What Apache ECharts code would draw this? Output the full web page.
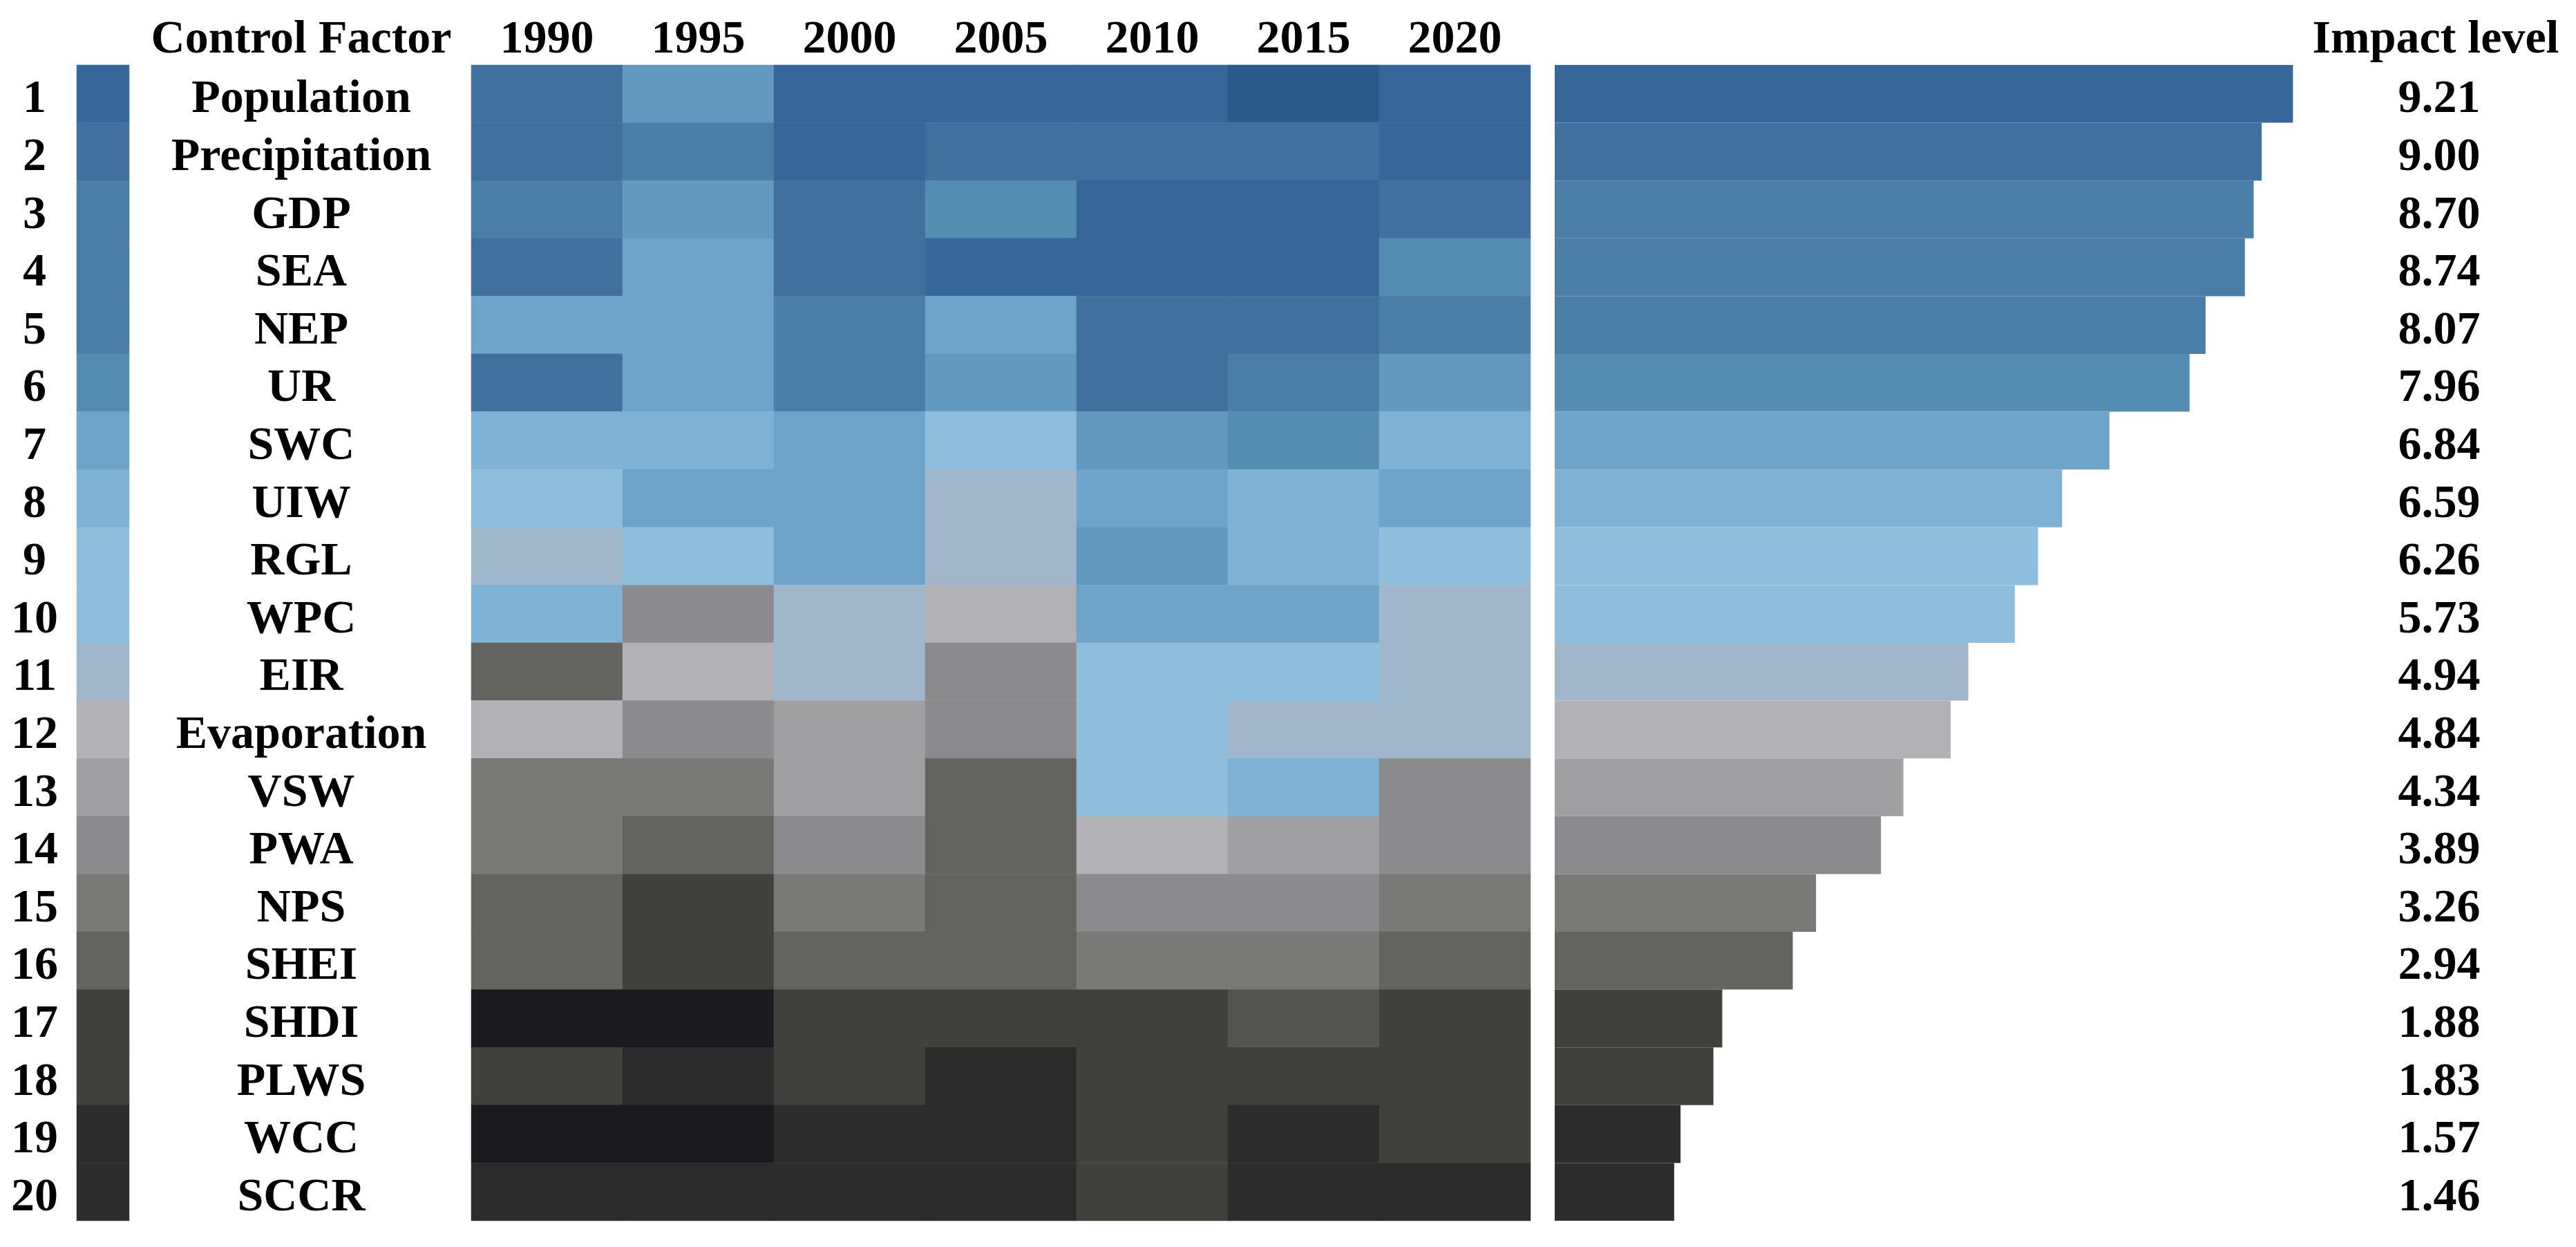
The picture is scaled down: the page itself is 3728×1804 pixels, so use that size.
<!DOCTYPE html>
<html>
<head>
<meta charset="utf-8">
<script src="https://cdn.jsdelivr.net/npm/echarts@6/dist/echarts.min.js"></script>
<style>
  html, body { margin: 0; padding: 0; background: #fff; }
  #chart { width: 3728px; height: 1804px; }
</style>
</head>
<body>
<div id="chart"></div>
<script>
// 数据
const factors = ['Population', 'Precipitation', 'GDP', 'SEA', 'NEP', 'UR', 'SWC', 'UIW', 'RGL', 'WPC',
  'EIR', 'Evaporation', 'VSW', 'PWA', 'NPS', 'SHEI', 'SHDI', 'PLWS', 'WCC', 'SCCR'];
const years = ['1990', '1995', '2000', '2005', '2010', '2015', '2020'];
const impactLevel = [9.21, 9.00, 8.70, 8.74, 8.07, 7.96, 6.84, 6.59, 6.26, 5.73,
  4.94, 4.84, 4.34, 3.89, 3.26, 2.94, 1.88, 1.83, 1.57, 1.46];
// bar lengths as drawn (not always equal to the printed level)
const barLength = [9.21, 8.82, 8.72, 8.61, 8.12, 7.92, 6.92, 6.33, 6.03, 5.74,
  5.16, 4.94, 4.35, 4.07, 3.26, 2.97, 2.09, 1.98, 1.57, 1.49];
// colour class of each rank (swatch + bar)
const rankLevel = [1, 2, 3, 3, 3, 4, 6, 7, 8, 8, 9, 10, 11, 12, 13, 14, 16, 16, 17, 17];
// colour class of each cell, one row per factor, columns = years
const cellLevel = [
  [2, 5, 1, 1, 1, 0, 1],
  [2, 3, 1, 2, 2, 2, 1],
  [3, 5, 2, 4, 1, 1, 2],
  [2, 6, 2, 1, 1, 1, 4],
  [6, 6, 3, 6, 2, 2, 3],
  [2, 6, 3, 5, 2, 3, 5],
  [7, 7, 6, 8, 5, 4, 7],
  [8, 6, 6, 9, 6, 7, 6],
  [9, 8, 6, 9, 5, 7, 8],
  [7, 12, 9, 10, 6, 6, 9],
  [14, 10, 9, 12, 8, 8, 9],
  [10, 12, 11, 12, 8, 9, 9],
  [13, 13, 11, 14, 8, 7, 12],
  [13, 14, 12, 14, 10, 11, 12],
  [14, 16, 13, 14, 12, 12, 13],
  [14, 16, 14, 14, 13, 13, 14],
  [18, 18, 16, 16, 16, 15, 16],
  [16, 17, 16, 17, 16, 16, 16],
  [18, 18, 17, 17, 16, 17, 16],
  [17, 17, 17, 17, 16, 17, 17]
];

const palette = ['#2b5b8b', '#37679a', '#41709f', '#4a7da8', '#558cb2', '#6399bf', '#6ea4c9',
  '#7eb1d4', '#8ebedc', '#a0b6cb', '#b2b1b6', '#a0a0a2', '#8b8b8d', '#797977', '#63645f',
  '#545550', '#40413c', '#2c2c2c', '#1b1a1f'];

const font = { fontFamily: 'Liberation Serif', fontWeight: 'bold', fontSize: 68, color: '#000', interval: 0 };
const rowFont = { ...font, align: 'center' };

const swatchData = rankLevel.map((lv, i) => [0, i, lv]);
const heatData = [];
cellLevel.forEach((row, i) => {
  row.forEach((lv, j) => heatData.push([j, i, lv]));
});

const gridTop = 94, gridHeight = 1672;
const labelTop = gridTop + 9; // row texts sit a little below the row centre
const hidden = { axisLine: { show: false }, axisTick: { show: false }, splitLine: { show: false } };

const option = {
  animation: false,
  backgroundColor: '#fff',
  grid: [
    { left: 111, top: gridTop, width: 76, height: gridHeight },
    { left: 682, top: gridTop, width: 1533, height: gridHeight },
    { left: 2250, top: gridTop, width: 1160, height: gridHeight },
    // label-only grids
    { left: 111, top: labelTop, width: 76, height: gridHeight },
    { left: 682, top: labelTop, width: 1533, height: gridHeight },
    { left: 2250, top: labelTop, width: 1160, height: gridHeight }
  ],
  xAxis: [
    { type: 'category', gridIndex: 0, data: ['rank'], show: false },
    {
      type: 'category', gridIndex: 1, data: years, position: 'top', ...hidden,
      axisLabel: { ...font, margin: 36, verticalAlign: 'middle' }
    },
    { type: 'value', gridIndex: 2, min: 0, max: 10, show: false },
    { type: 'value', gridIndex: 3, show: false },
    { type: 'value', gridIndex: 4, show: false },
    { type: 'value', gridIndex: 5, show: false }
  ],
  yAxis: [
    { type: 'category', gridIndex: 0, data: factors, inverse: true, show: false },
    { type: 'category', gridIndex: 1, data: factors, inverse: true, show: false },
    { type: 'category', gridIndex: 2, data: factors, inverse: true, show: false },
    {
      type: 'category', gridIndex: 3, data: factors, inverse: true, ...hidden,
      axisLabel: { ...rowFont, margin: 61, formatter: (v, i) => String(i + 1) }
    },
    {
      type: 'category', gridIndex: 4, data: factors, inverse: true, ...hidden,
      axisLabel: { ...rowFont, margin: 246 }
    },
    {
      type: 'category', gridIndex: 5, data: factors, inverse: true, position: 'right', ...hidden,
      axisLabel: { ...rowFont, margin: 120, formatter: (v, i) => impactLevel[i].toFixed(2) }
    }
  ],
  visualMap: {
    type: 'piecewise',
    show: false,
    seriesIndex: [0, 1],
    dimension: 2,
    pieces: palette.map((c, i) => ({ value: i, color: c }))
  },
  graphic: [
    { type: 'text', x: 436, y: 58, style: { text: 'Control Factor', fill: '#000', align: 'center', verticalAlign: 'middle', font: 'bold 68px "Liberation Serif"' } },
    { type: 'text', x: 3525, y: 58, style: { text: 'Impact level', fill: '#000', align: 'center', verticalAlign: 'middle', font: 'bold 68px "Liberation Serif"' } }
  ],
  series: [
    {
      type: 'heatmap', xAxisIndex: 0, yAxisIndex: 0, data: swatchData,
      emphasis: { disabled: true }, silent: true
    },
    {
      type: 'heatmap', xAxisIndex: 1, yAxisIndex: 1, data: heatData,
      emphasis: { disabled: true }, silent: true
    },
    {
      type: 'bar', xAxisIndex: 2, yAxisIndex: 2, data: barLength,
      barWidth: '100%', silent: true,
      itemStyle: { color: p => palette[rankLevel[p.dataIndex]] }
    }
  ]
};

const myChart = echarts.init(document.getElementById('chart'));
myChart.setOption(option);
</script>
</body>
</html>
